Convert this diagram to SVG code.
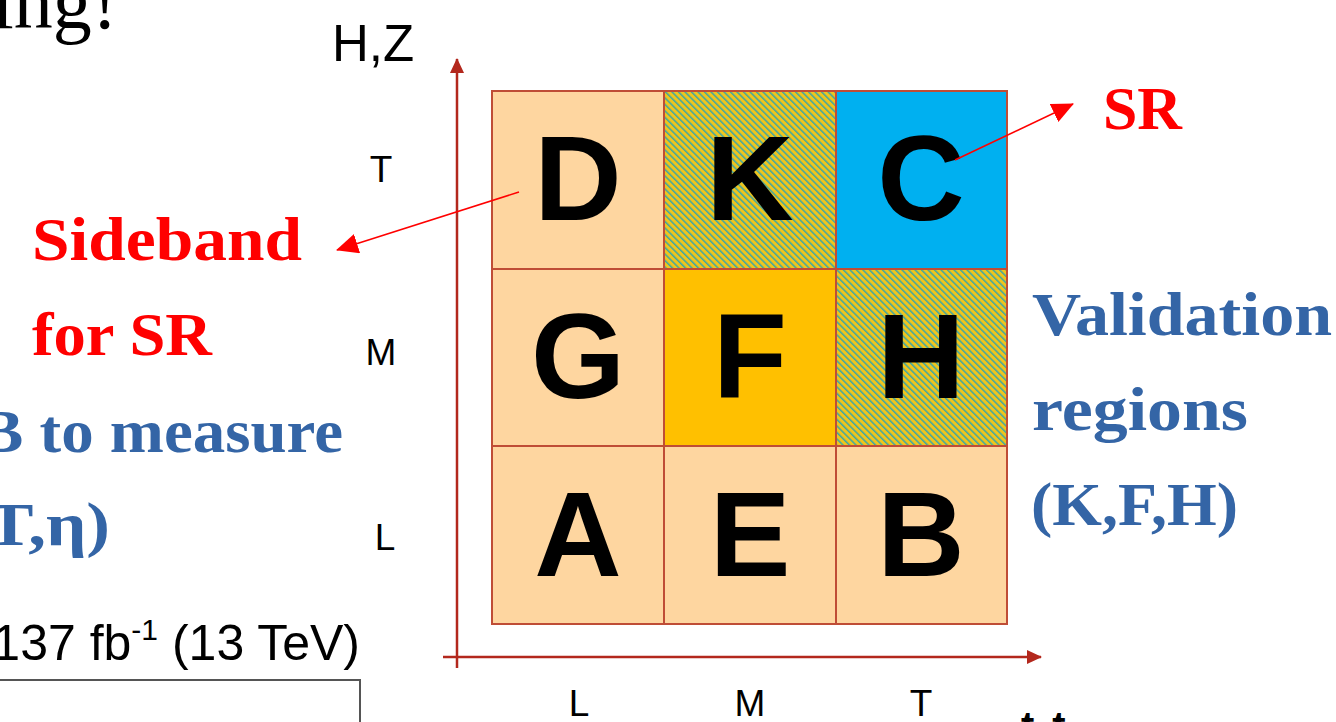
<svg xmlns="http://www.w3.org/2000/svg" width="1336" height="722" viewBox="0 0 1336 722">
<style>
.cell{stroke:#bf4d36;stroke-width:2}
.big{font-family:"Liberation Sans",Arial,sans-serif;font-weight:bold;font-size:121px;fill:#000;text-anchor:middle}
.ax{font-family:"Liberation Sans",Arial,sans-serif;font-size:37px;fill:#000;text-anchor:middle}
.red{font-family:"Liberation Serif","DejaVu Serif",serif;font-weight:bold;font-size:62px;fill:#ff0000}
.blue{font-family:"Liberation Serif","DejaVu Serif",serif;font-weight:bold;font-size:62px;fill:#3465a6}
.axis{stroke:#b3281d;stroke-width:2.5;fill:none}
.rarrow{stroke:#ff0000;stroke-width:1.5;fill:none}
</style>
<defs>
<pattern id="hatch" patternUnits="userSpaceOnUse" width="4.6" height="4.6" patternTransform="rotate(-45)">
<rect width="4.6" height="4.6" fill="#f0c51c"/>
<rect width="1.5" height="4.6" fill="#3aa6a8"/>
</pattern>
<marker id="axhead" markerUnits="userSpaceOnUse" markerWidth="16" markerHeight="14" refX="14" refY="7" orient="auto">
<path d="M0,0 L15,7 L0,14 Z" fill="#b3281d"/>
</marker>
<marker id="rhead" markerUnits="userSpaceOnUse" markerWidth="22" markerHeight="20" refX="21" refY="10" orient="auto">
<path d="M0,0 L22,10 L0,20 Z" fill="#ff0000"/>
</marker>
</defs>
<rect width="1336" height="722" fill="#ffffff"/>

<text x="-8" y="28" font-family="Liberation Serif,serif" font-size="78" fill="#000">ing!</text>

<g id="axes">
<line class="axis" x1="457" y1="668" x2="457" y2="59" marker-end="url(#axhead)"/>
<line class="axis" x1="443" y1="657" x2="1041" y2="657" marker-end="url(#axhead)"/>
<text x="373" y="61" font-family="Liberation Sans,sans-serif" font-size="51" fill="#000" text-anchor="middle">H,Z</text>
<text class="ax" x="381" y="182">T</text>
<text class="ax" x="381" y="365">M</text>
<text class="ax" x="385" y="550">L</text>
<text class="ax" x="579" y="716">L</text>
<text class="ax" x="750" y="716">M</text>
<text class="ax" x="921" y="716">T</text>
<text x="1021" y="740" font-family="Liberation Sans,sans-serif" font-weight="bold" font-size="40" letter-spacing="18" fill="#000">tt</text>
</g>

<g id="D"><rect class="cell" x="492" y="91" width="172" height="178" fill="#fed6a0"/><text class="big" x="578" y="220">D</text></g>
<g id="K"><rect class="cell" x="664" y="91" width="172" height="178" fill="url(#hatch)"/><text class="big" x="750" y="220">K</text></g>
<g id="C"><rect class="cell" x="836" y="91" width="171" height="178" fill="#00b0f0"/><text class="big" x="921" y="220">C</text></g>
<g id="G"><rect class="cell" x="492" y="269" width="172" height="177" fill="#fed6a0"/><text class="big" x="578" y="398">G</text></g>
<g id="F"><rect class="cell" x="664" y="269" width="172" height="177" fill="#ffc000"/><text class="big" x="750" y="398">F</text></g>
<g id="H"><rect class="cell" x="836" y="269" width="171" height="177" fill="url(#hatch)"/><text class="big" x="921" y="398">H</text></g>
<g id="A"><rect class="cell" x="492" y="446" width="172" height="178" fill="#fed6a0"/><text class="big" x="578" y="576">A</text></g>
<g id="E"><rect class="cell" x="664" y="446" width="172" height="178" fill="#fed6a0"/><text class="big" x="750" y="576">E</text></g>
<g id="B"><rect class="cell" x="836" y="446" width="171" height="178" fill="#fed6a0"/><text class="big" x="921" y="576">B</text></g>

<g id="connectors">
<line class="rarrow" x1="519" y1="192" x2="337" y2="250" marker-end="url(#rhead)"/>
<line class="rarrow" x1="955" y1="160" x2="1073" y2="104" marker-end="url(#rhead)"/>
</g>

<g id="labels">
<text class="red" x="32" y="260" textLength="270" lengthAdjust="spacingAndGlyphs">Sideband</text>
<text class="red" x="32" y="355" textLength="180" lengthAdjust="spacingAndGlyphs">for SR</text>
<text class="red" x="1103" y="129" textLength="79" lengthAdjust="spacingAndGlyphs">SR</text>
<text class="blue" x="1032" y="335" textLength="300" lengthAdjust="spacingAndGlyphs">Validation</text>
<text class="blue" x="1032" y="430" textLength="216" lengthAdjust="spacingAndGlyphs">regions</text>
<text class="blue" x="1031" y="525" textLength="207" lengthAdjust="spacingAndGlyphs">(K,F,H)</text>
<text class="blue" x="-20" y="452" textLength="363" lengthAdjust="spacingAndGlyphs">B to measure</text>
<text class="blue" x="-14" y="545" textLength="124" lengthAdjust="spacingAndGlyphs">T,η)</text>
</g>

<g id="lumi">
<text x="360" y="660" font-family="Liberation Sans,Arial,sans-serif" font-size="50" fill="#000" text-anchor="end">137 fb<tspan font-size="30" dy="-20">-1</tspan><tspan dy="20"> (13 TeV)</tspan></text>
<polyline points="0,680 360,680 360,722" fill="none" stroke="#555" stroke-width="2"/>
</g>
</svg>
